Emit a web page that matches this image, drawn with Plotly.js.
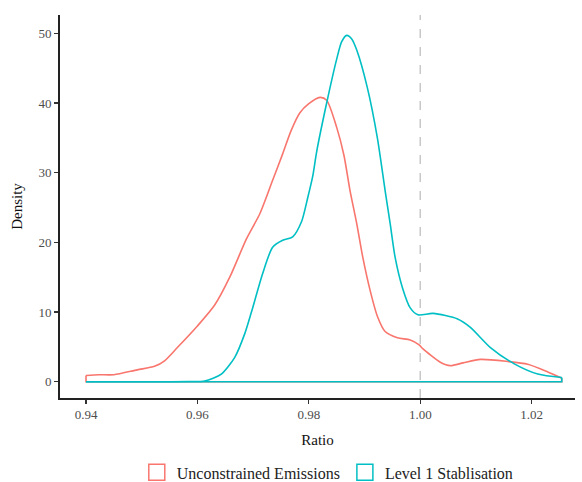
<!DOCTYPE html>
<html>
<head>
<meta charset="utf-8">
<script src="https://cdn.plot.ly/plotly-3.0.1.min.js"></script>
<style>html,body{margin:0;padding:0;background:#fff;}</style>
</head>
<body>
<div id="chart" style="width:582px;height:482px;"></div>
<script>
// Series names
const seriesNames = ["Unconstrained Emissions", "Level 1 Stablisation"];
const seriesColors = ["#F8766D", "#00BFC4"];

// Unconstrained Emissions density
const unconX = [0.9400,0.9423,0.9450,0.9492,0.9523,0.9541,0.9564,0.9600,0.9631,0.9658,0.9688,0.9712,0.9735,0.9753,0.9768,0.9784,0.9800,0.9820,0.9832,0.9850,0.9863,0.9874,0.9886,0.9897,0.9910,0.9923,0.9937,0.9959,0.9982,0.9998,1.0005,1.0036,1.0054,1.0077,1.0108,1.0157,1.0193,1.0229,1.0254];
const unconY = [0.9,1.0,1.0,1.7,2.2,3.0,4.9,8.0,11.0,15.0,20.5,24.1,28.9,32.7,36.0,38.6,39.9,40.8,40.4,36.5,32.5,27.4,22.7,17.8,13.1,9.4,7.2,6.3,6.0,5.3,4.7,2.8,2.3,2.7,3.2,2.9,2.5,1.4,0.5];

// Level 1 Stablisation density
const level1X = [0.9400,0.9586,0.9613,0.9643,0.9667,0.9685,0.9697,0.9717,0.9735,0.9753,0.9771,0.9787,0.9798,0.9807,0.9814,0.9832,0.9850,0.9859,0.9868,0.9877,0.9886,0.9905,0.9923,0.9937,0.9946,0.9955,0.9968,0.9982,0.9996,1.0023,1.0067,1.0090,1.0126,1.0168,1.0211,1.0254];
const level1Y = [0.0,0.02,0.1,1.1,3.5,6.9,10.0,15.5,19.3,20.3,20.8,23.0,26.4,29.5,33.0,40.0,46.3,48.8,49.7,49.2,47.6,42.2,35.0,27.4,22.7,17.8,13.5,10.6,9.6,9.8,9.0,7.8,4.9,2.6,1.1,0.6];

// Axis ticks
const xTicks = [0.94, 0.96, 0.98, 1.00, 1.02];
const xTickLabels = ["0.94", "0.96", "0.98", "1.00", "1.02"];
const yTicks = [0, 10, 20, 30, 40, 50];
const refLine = 1.00;

const font = "'Liberation Serif', 'DejaVu Serif', serif";

function curveTraces(xs, ys, color, name) {
  const n = xs.length;
  return [
    {x: xs, y: ys, mode: "lines", line: {color: color, width: 1.6, shape: "spline", smoothing: 0.7},
     showlegend: false, hoverinfo: "skip", name: name},
    {x: [xs[n-1], xs[n-1], xs[0], xs[0]], y: [ys[n-1], 0, 0, ys[0]], mode: "lines",
     line: {color: color, width: 1.6}, showlegend: false, hoverinfo: "skip", name: name}
  ];
}

const data = [
  ...curveTraces(unconX, unconY, seriesColors[0], seriesNames[0]),
  ...curveTraces(level1X, level1Y, seriesColors[1], seriesNames[1]),
  {x: [null], y: [null], mode: "markers", name: seriesNames[0],
   marker: {symbol: "square-open", size: 16, color: seriesColors[0], line: {width: 1.5, color: seriesColors[0]}}},
  {x: [null], y: [null], mode: "markers", name: seriesNames[1],
   marker: {symbol: "square-open", size: 16, color: seriesColors[1], line: {width: 1.5, color: seriesColors[1]}}}
];

const layout = {
  width: 582, height: 482,
  margin: {l: 60, r: 7, t: 15, b: 84, autoexpand: false},
  paper_bgcolor: "#fff", plot_bgcolor: "#fff",
  font: {family: font, color: "#000"},
  xaxis: {
    range: [0.93533, 1.02778], tickvals: xTicks, ticktext: xTickLabels,
    showgrid: false, zeroline: false, showline: true, linecolor: "#222", linewidth: 1.8,
    ticks: "outside", ticklen: 4, tickwidth: 1.3, tickcolor: "#333",
    tickfont: {family: font, size: 13, color: "#4d4d4d"},
    title: {text: "Ratio", font: {family: font, size: 15, color: "#111"}, standoff: 13}
  },
  yaxis: {
    range: [-2.34, 52.63], tickvals: yTicks,
    showgrid: false, zeroline: false, showline: true, linecolor: "#222", linewidth: 1.8,
    ticks: "outside", ticklen: 4, tickwidth: 1.3, tickcolor: "#333",
    tickfont: {family: font, size: 13, color: "#4d4d4d"},
    title: {text: "Density", font: {family: font, size: 15, color: "#111"}, standoff: 12}
  },
  shapes: [{type: "line", xref: "x", yref: "paper", x0: refLine, x1: refLine, y0: 0, y1: 1,
            line: {color: "#c8c8c8", width: 1.5, dash: "dash"}, layer: "below"}],
  legend: {orientation: "h", x: 0.52, xanchor: "center", y: -0.15, yanchor: "top",
           font: {family: font, size: 16, color: "#222"}, itemwidth: 30},
  showlegend: true
};

Plotly.newPlot("chart", data, layout, {displayModeBar: false, staticPlot: true});
</script>
</body>
</html>
